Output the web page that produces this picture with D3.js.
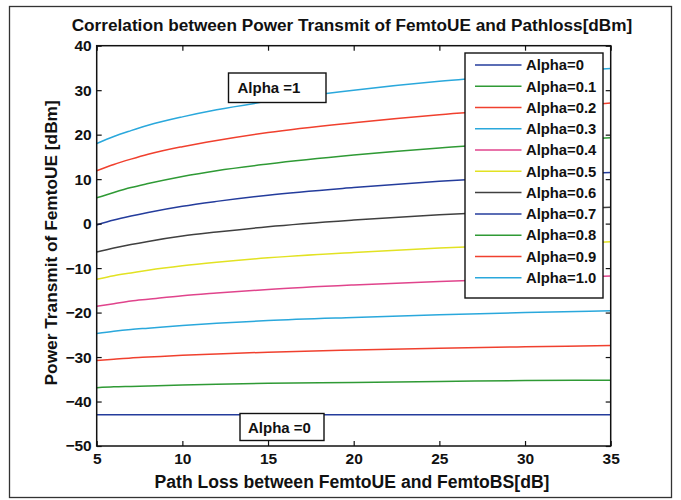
<!DOCTYPE html>
<html>
<head>
<meta charset="utf-8">
<script src="https://cdn.jsdelivr.net/npm/d3@7"></script>
<style>
  html, body { margin: 0; padding: 0; background: #fff; }
  svg { display: block; font-family: "Liberation Sans", Arial, sans-serif; }
</style>
</head>
<body>
<svg id="chart" width="681" height="500"></svg>
<script>
// Path loss between FemtoUE and FemtoBS [dB]
const pathLoss = [5, 6, 7, 8, 10, 12, 15, 20, 25, 30, 35];

// Transmit power of FemtoUE [dBm] for each alpha
const alpha00 = [-43.0, -43.0, -43.0, -43.0, -43.0, -43.0, -43.0, -43.0, -43.0, -43.0, -43.0];
const alpha01 = [-36.9, -36.7, -36.6, -36.5, -36.3, -36.1, -35.9, -35.7, -35.5, -35.3, -35.2];
const alpha02 = [-30.8, -30.5, -30.2, -30.0, -29.6, -29.3, -28.9, -28.4, -28.0, -27.7, -27.4];
const alpha03 = [-24.7, -24.2, -23.8, -23.5, -22.9, -22.4, -21.8, -21.1, -20.5, -20.0, -19.6];
const alpha04 = [-18.6, -18.0, -17.4, -17.0, -16.2, -15.6, -14.8, -13.8, -13.0, -12.4, -11.8];
const alpha05 = [-12.5, -11.7, -11.1, -10.5, -9.5, -8.7, -7.7, -6.5, -5.5, -4.7, -4.1];
const alpha06 = [-6.4, -5.5, -4.7, -4.0, -2.8, -1.9, -0.7, 0.8, 2.0, 2.9, 3.7];
const alpha07 = [-0.3, 0.8, 1.7, 2.5, 3.9, 5.0, 6.4, 8.1, 9.5, 10.6, 11.5];
const alpha08 = [5.8, 7.0, 8.1, 9.0, 10.6, 11.9, 13.4, 15.4, 17.0, 18.2, 19.3];
const alpha09 = [11.9, 13.3, 14.5, 15.6, 17.3, 18.7, 20.5, 22.7, 24.5, 25.9, 27.1];
const alpha10 = [18.0, 19.6, 20.9, 22.1, 24.0, 25.6, 27.5, 30.0, 32.0, 33.5, 34.9];

const seriesNames = ["Alpha=0", "Alpha=0.1", "Alpha=0.2", "Alpha=0.3", "Alpha=0.4", "Alpha=0.5",
                     "Alpha=0.6", "Alpha=0.7", "Alpha=0.8", "Alpha=0.9", "Alpha=1.0"];
const seriesValues = [alpha00, alpha01, alpha02, alpha03, alpha04, alpha05,
                      alpha06, alpha07, alpha08, alpha09, alpha10];
const seriesColors = ["#243c9c", "#2f9a35", "#f0402e", "#2aa8dc", "#e0448c", "#e2e222",
                      "#404040", "#243c9c", "#2f9a35", "#f0402e", "#2aa8dc"];

const xTicks = [5, 10, 15, 20, 25, 30, 35];
const yTicks = [-50, -40, -30, -20, -10, 0, 10, 20, 30, 40];

const titleText = "Correlation between Power Transmit of FemtoUE and Pathloss[dBm]";
const xLabelText = "Path Loss between FemtoUE and FemtoBS[dB]";
const yLabelText = "Power Transmit of FemtoUE [dBm]";
const topNote = "Alpha =1";
const bottomNote = "Alpha =0";

const svg = d3.select("#chart");
const plot = { left: 96.7, right: 610.7, top: 45.7, bottom: 446 };

const x = d3.scaleLinear().domain([5, 35]).range([plot.left, plot.right]);
const y = d3.scaleLinear().domain([-50, 40]).range([plot.bottom, plot.top]);

// outer figure frame
svg.append("rect")
  .attr("x", 9.5).attr("y", 6.5).attr("width", 662).attr("height", 491)
  .attr("fill", "#fff").attr("stroke", "#333").attr("stroke-width", 1.3);

// title
svg.append("text")
  .attr("x", 352).attr("y", 31)
  .attr("text-anchor", "middle").attr("font-size", 17.2).attr("font-weight", "bold")
  .attr("fill", "#111").text(titleText);

// lines
const line = d3.line()
  .x((d, i) => x(pathLoss[i]))
  .y(d => y(d))
  .curve(d3.curveMonotoneX);

svg.append("g").selectAll("path.series")
  .data(seriesValues)
  .join("path")
  .attr("class", "series")
  .attr("d", line)
  .attr("fill", "none")
  .attr("stroke", (d, i) => seriesColors[i])
  .attr("stroke-width", 1.5);

// axes with inward ticks
const tickFont = (sel) => sel.selectAll("text")
  .attr("font-size", 15.5).attr("font-weight", "bold").attr("fill", "#111")
  .attr("font-family", "Liberation Sans, Arial, sans-serif");

const axB = svg.append("g").attr("transform", `translate(0,${plot.bottom})`)
  .call(d3.axisBottom(x).tickValues(xTicks).tickFormat(d3.format("d"))
    .tickSizeInner(-5).tickSizeOuter(0).tickPadding(7));
axB.call(tickFont);
const axL = svg.append("g").attr("transform", `translate(${plot.left},0)`)
  .call(d3.axisLeft(y).tickValues(yTicks).tickFormat(d3.format("d"))
    .tickSizeInner(-5).tickSizeOuter(0).tickPadding(5));
axL.call(tickFont);
svg.append("g").attr("transform", `translate(0,${plot.top})`)
  .call(d3.axisTop(x).tickValues(xTicks).tickFormat("").tickSizeInner(-5).tickSizeOuter(0));
svg.append("g").attr("transform", `translate(${plot.right},0)`)
  .call(d3.axisRight(y).tickValues(yTicks).tickFormat("").tickSizeInner(-5).tickSizeOuter(0));
svg.selectAll(".domain").remove();
svg.selectAll(".tick line").attr("stroke", "#111").attr("stroke-width", 1.2);

// plot box
svg.append("rect")
  .attr("x", plot.left).attr("y", plot.top)
  .attr("width", plot.right - plot.left).attr("height", plot.bottom - plot.top)
  .attr("fill", "none").attr("stroke", "#111").attr("stroke-width", 1.5);

// axis labels
svg.append("text")
  .attr("x", 352).attr("y", 488)
  .attr("text-anchor", "middle").attr("font-size", 17.6).attr("font-weight", "bold")
  .attr("fill", "#111").text(xLabelText);
svg.append("text")
  .attr("transform", `translate(57,${(plot.top + plot.bottom) / 2 - 3}) rotate(-90)`)
  .attr("text-anchor", "middle").attr("font-size", 17.3).attr("font-weight", "bold")
  .attr("fill", "#111").text(yLabelText);

// annotation boxes
function note(text, bx, by, bw, bh, pad) {
  svg.append("rect").attr("x", bx).attr("y", by).attr("width", bw).attr("height", bh)
    .attr("fill", "#fff").attr("stroke", "#111").attr("stroke-width", 1.4);
  svg.append("text").attr("x", bx + pad).attr("y", by + bh / 2 + 5.5)
    .attr("font-size", 15).attr("font-weight", "bold")
    .attr("fill", "#111").text(text);
}
note(topNote, 228.5, 73, 97.5, 29.5, 9);
note(bottomNote, 240, 413.5, 84, 27, 8);

// legend
const leg = { x: 465, y: 53, w: 138, h: 245, row: 21.27, first: 65 };
svg.append("rect").attr("x", leg.x).attr("y", leg.y).attr("width", leg.w).attr("height", leg.h)
  .attr("fill", "#fff").attr("stroke", "#111").attr("stroke-width", 1.4);
const items = svg.append("g").selectAll("g")
  .data(seriesNames).join("g")
  .attr("transform", (d, i) => `translate(0,${leg.first + i * leg.row})`);
items.append("line").attr("x1", 475).attr("x2", 521.5).attr("y1", 0).attr("y2", 0)
  .attr("stroke", (d, i) => seriesColors[i]).attr("stroke-width", 1.5);
items.append("text").attr("x", 526).attr("y", 5.3)
  .attr("font-size", 14.8).attr("font-weight", "bold").attr("fill", "#111").text(d => d);
</script>
</body>
</html>
